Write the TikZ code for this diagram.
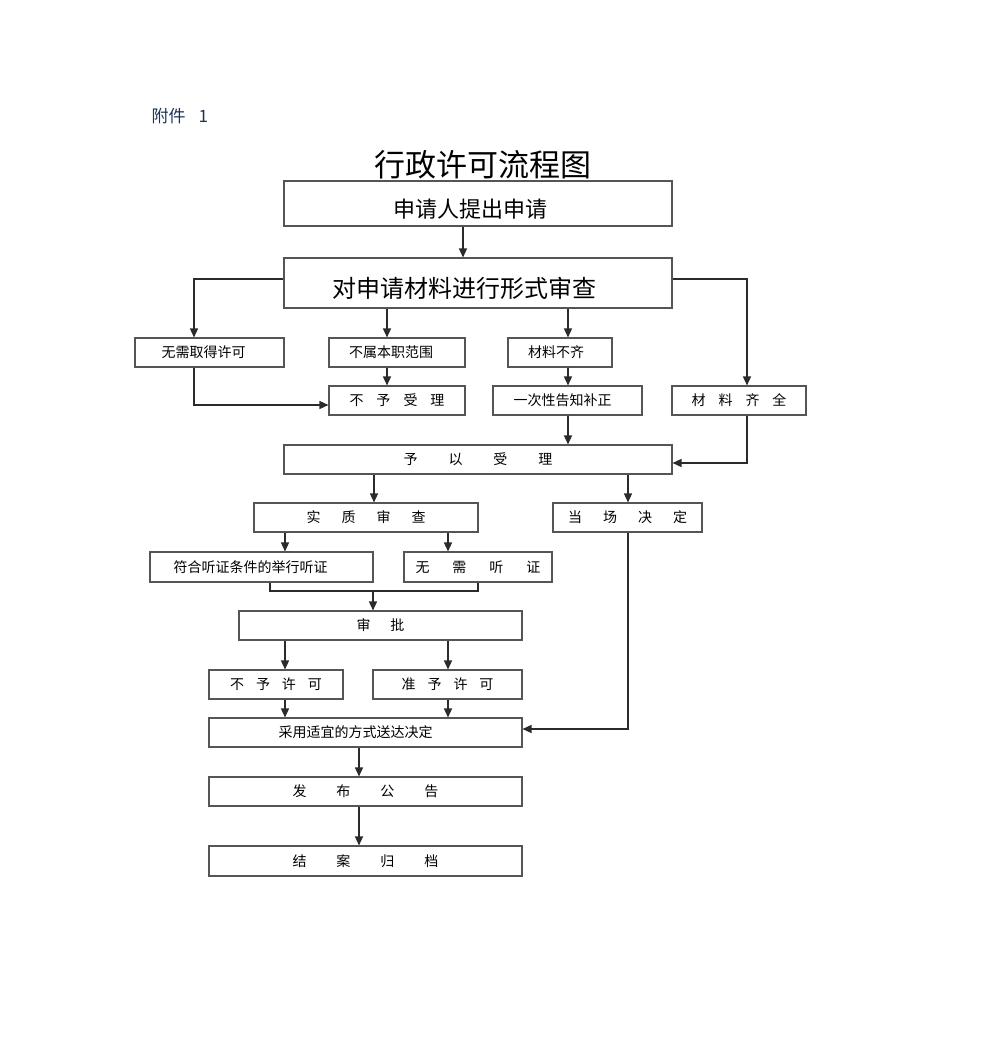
\documentclass[tikz,border=0pt]{standalone}
\usepackage{fontspec}
\setmainfont{Noto Sans CJK SC}
\usepackage{tikz}
\usetikzlibrary{arrows.meta,positioning,calc}
\definecolor{boxline}{HTML}{555555}
\definecolor{flowline}{HTML}{2B2B2B}
\definecolor{notecol}{HTML}{1A3558}

\begin{document}
\begin{tikzpicture}[
  x=1pt, y=-1pt,
  box/.style={draw=boxline, line width=1.1pt, minimum height=29pt, inner sep=0pt, font=\fontsize{14}{16}\selectfont},
  bigbox/.style={box, font=\fontsize{22}{25}\selectfont},
  arr/.style={-{Triangle[length=9pt,width=8pt]}, line width=1.4pt, flowline},
  plain/.style={line width=1.4pt, flowline}
]
\useasboundingbox (0,0) rectangle (991,1060);

\node[text=notecol, font=\fontsize{17}{19}\selectfont, anchor=west] (fujian) at (148,116) {附件\hspace{13pt}1};
\node[font=\fontsize{31}{35}\selectfont] (title) at (483,165) {行政许可流程图};

\node[bigbox, minimum width=388pt, minimum height=45pt] (shenqing) at (478,203.5) {\hspace{-16pt}\raisebox{-5.5pt}[\height][\depth]{申请人提出申请}};
\node[bigbox, minimum width=388pt, minimum height=50pt, font=\fontsize{24}{27}\selectfont] (xingshi) at (478,283) {\hspace{-28pt}\raisebox{-5pt}[\height][\depth]{对申请材料进行形式审查}};

\node[box, minimum width=149pt] (wuxu) at (209.5,352.5) {\hspace{-12pt}无需取得许可};
\node[box, minimum width=136pt] (bushu) at (397,352.5) {\hspace{-12pt}不属本职范围};
\node[box, minimum width=104pt] (buqi) at (560,352.5) {\hspace{-8pt}材料不齐};

\node[box, minimum width=136pt] (bushouli) at (397,400.5) {不\hspace{13pt}予\hspace{13pt}受\hspace{13pt}理};
\node[box, minimum width=149pt] (buzheng) at (567.5,400.5) {\hspace{-10pt}一次性告知补正};
\node[box, minimum width=134pt] (qiquan) at (739,400.5) {材\hspace{13pt}料\hspace{13pt}齐\hspace{13pt}全};

\node[box, minimum width=388pt] (shouli) at (478,459.5) {予\hspace{31pt}以\hspace{31pt}受\hspace{31pt}理};

\node[box, minimum width=224pt] (shizhi) at (366,517.5) {实\hspace{21pt}质\hspace{21pt}审\hspace{21pt}查};
\node[box, minimum width=149pt] (dangchang) at (627.5,517.5) {当\hspace{21pt}场\hspace{21pt}决\hspace{21pt}定};

\node[box, minimum width=223pt, minimum height=30pt] (tingzheng) at (261.5,567) {\hspace{-22pt}符合听证条件的举行听证};
\node[box, minimum width=148pt, minimum height=30pt] (wuxutz) at (478,567) {无\hspace{23pt}需\hspace{23pt}听\hspace{23pt}证};

\node[box, minimum width=283pt] (shenpi) at (380.5,625.5) {审\hspace{20pt}批};

\node[box, minimum width=134pt] (buxuke) at (276,684.5) {不\hspace{12pt}予\hspace{12pt}许\hspace{12pt}可};
\node[box, minimum width=149pt] (zhunyu) at (447.5,684.5) {准\hspace{12pt}予\hspace{12pt}许\hspace{12pt}可};

\node[box, minimum width=313pt] (songda) at (365.5,732.5) {\hspace{-20pt}采用适宜的方式送达决定};
\node[box, minimum width=313pt] (gonggao) at (365.5,791.5) {发\hspace{30pt}布\hspace{30pt}公\hspace{30pt}告};
\node[box, minimum width=313pt, minimum height=30pt] (guidang) at (365.5,861) {结\hspace{30pt}案\hspace{30pt}归\hspace{30pt}档};

% formal check
\draw[arr] ([xshift=-15]shenqing.south) -- ([xshift=-15]xingshi.north);
\draw[arr] ([yshift=4]xingshi.west) -| ([xshift=-15.5]wuxu.north);
\draw[arr] ([yshift=4]xingshi.east) -| ([xshift=8]qiquan.north);
\draw[arr] ([xshift=-10]bushu.north |- xingshi.south) -- ([xshift=-10]bushu.north);
\draw[arr] ([xshift=8]buqi.north |- xingshi.south) -- ([xshift=8]buqi.north);
\draw[arr] ([xshift=-10]bushu.south) -- ([xshift=-10]bushouli.north);
\draw[arr] ([xshift=8]buqi.south) -- ([xshift=8]buqi.south |- buzheng.north);
\draw[arr] ([xshift=-15.5]wuxu.south) |- ([yshift=-4.5]bushouli.west);

% acceptance
\draw[arr] ([xshift=0.5]buzheng.south) -- ([xshift=0.5]buzheng.south |- shouli.north);
\draw[arr] ([xshift=8]qiquan.south) |- ([yshift=-3.5]shouli.east);
\draw[arr] ([xshift=8]shizhi.north |- shouli.south) -- ([xshift=8]shizhi.north);
\draw[arr] ([xshift=0.5]dangchang.north |- shouli.south) -- ([xshift=0.5]dangchang.north);

% hearing
\draw[arr] ([xshift=23.5]tingzheng.north |- shizhi.south) -- ([xshift=23.5]tingzheng.north);
\draw[arr] ([xshift=-30]wuxutz.north |- shizhi.south) -- ([xshift=-30]wuxutz.north);
\coordinate (hj) at (373,591);
\draw[plain] ([xshift=8.5]tingzheng.south) |- (hj) -| (wuxutz.south);
\draw[arr] (hj) -- (hj |- shenpi.north);

% decision
\draw[arr] ([xshift=9]buxuke.north |- shenpi.south) -- ([xshift=9]buxuke.north);
\draw[arr] ([xshift=0.5]zhunyu.north |- shenpi.south) -- ([xshift=0.5]zhunyu.north);
\draw[arr] ([xshift=9]buxuke.south) -- ([xshift=9]buxuke.south |- songda.north);
\draw[arr] ([xshift=0.5]zhunyu.south) -- ([xshift=0.5]zhunyu.south |- songda.north);
\draw[arr] ([xshift=0.5]dangchang.south) |- ([yshift=3.5]songda.east);
\draw[arr] ([xshift=-6.5]songda.south) -- ([xshift=-6.5]gonggao.north);
\draw[arr] ([xshift=-6.5]gonggao.south) -- ([xshift=-6.5]guidang.north);

\end{tikzpicture}
\end{document}
